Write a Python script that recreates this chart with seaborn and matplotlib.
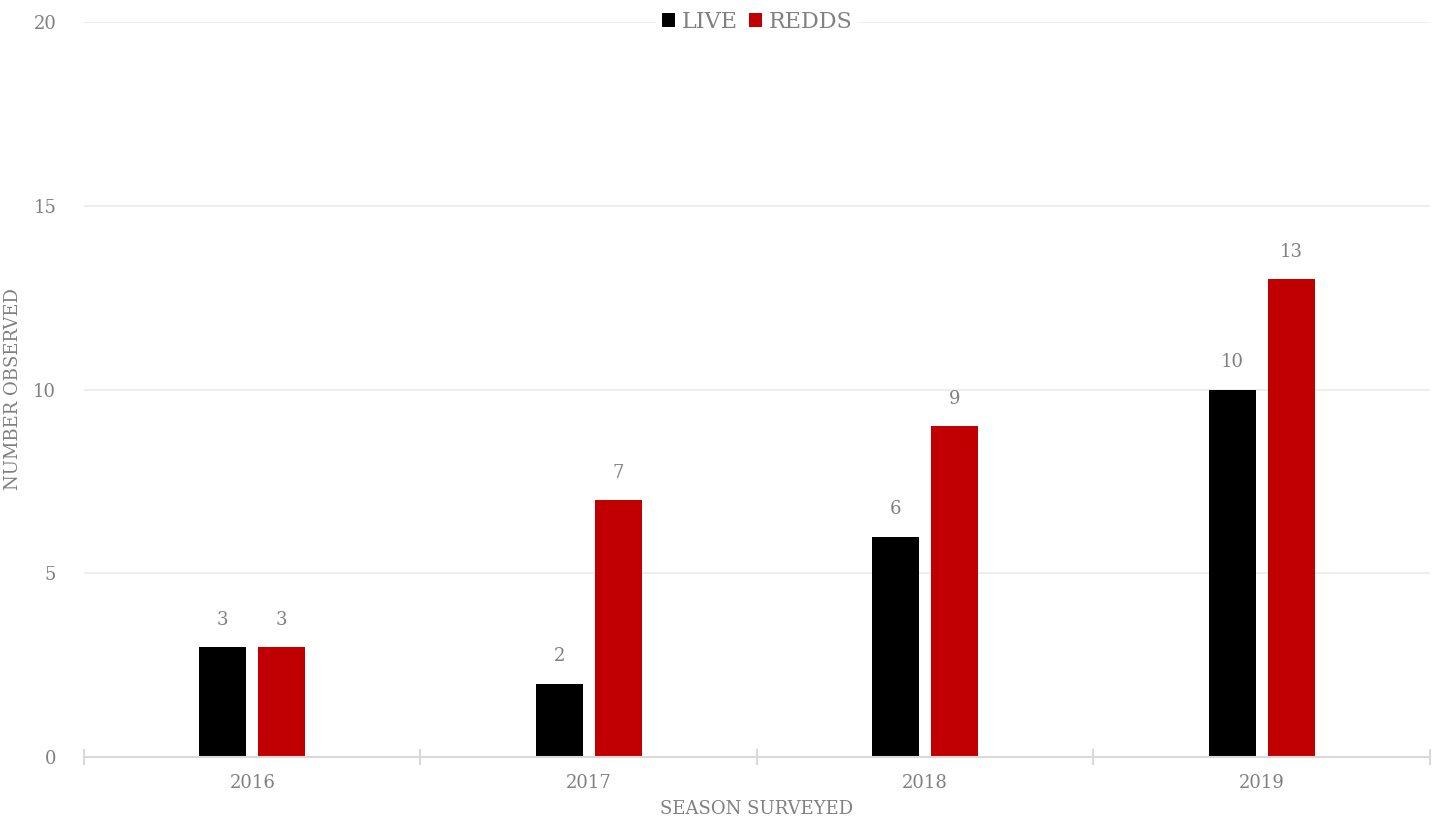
import pandas as pd
import numpy as np
import matplotlib
matplotlib.use('Agg')
import matplotlib.pyplot as plt
import seaborn as sns
from matplotlib.ticker import FixedLocator

# dados
seasons = ['2016', '2017', '2018', '2019']
live = [3, 2, 6, 10]
redds = [3, 7, 9, 13]
series_names = ['LIVE', 'REDDS']
series_colors = ['#000000', '#C00000']

df = pd.DataFrame({
    'season': seasons * 2,
    'count': live + redds,
    'tipo': [series_names[0]] * len(seasons) + [series_names[1]] * len(seasons),
})

sns.set_style('white')
plt.rcParams['font.family'] = ['DejaVu Serif']
txt = '#808080'

fig = plt.figure(figsize=(14.46, 8.19), dpi=100)
ax = fig.add_axes([0.0581, 0.0757, 0.9308, 0.8974])

sns.barplot(data=df, x='season', y='count', hue='tipo', palette=series_colors,
            width=0.351, gap=0.2, ax=ax, saturation=1, legend=True, linewidth=0)

ax.set_ylim(0, 20)
ax.set_xlim(-0.5, len(seasons) - 0.5)
ax.set_yticks([0, 5, 10, 15, 20])
ax.grid(axis='y', color='#EBEBEB', linewidth=1.2)
ax.set_axisbelow(True)
for s in ['top', 'right', 'left']:
    ax.spines[s].set_visible(False)
ax.spines['bottom'].set_color('#D9D9D9')
ax.spines['bottom'].set_linewidth(1.5)

ax.tick_params(axis='y', length=0, labelsize=13, labelcolor=txt, pad=20)
ax.tick_params(axis='x', which='major', length=0, labelsize=13, labelcolor=txt, pad=12)
ax.xaxis.set_minor_locator(FixedLocator(np.arange(-0.5, len(seasons), 1.0)))
ax.tick_params(axis='x', which='minor', bottom=True, length=12, direction='inout',
               color='#D9D9D9', width=1.5)

# rótulos nas barras
for cont in ax.containers:
    ax.bar_label(cont, padding=13, fontsize=13, color=txt)

ax.set_xlabel('SEASON SURVEYED', fontsize=13, color=txt, labelpad=6)
ax.set_ylabel('NUMBER OBSERVED', fontsize=13, color=txt, labelpad=8)

leg = ax.legend(loc='center', bbox_to_anchor=(0.5, 1.0), ncol=2, frameon=True,
                framealpha=1, edgecolor='white', fontsize=16, handlelength=0.6,
                handleheight=0.6, handletextpad=0.3, columnspacing=0.5,
                borderpad=0.2, title=None)
for t in leg.get_texts():
    t.set_color(txt)

fig.savefig('out.png', dpi=100)
